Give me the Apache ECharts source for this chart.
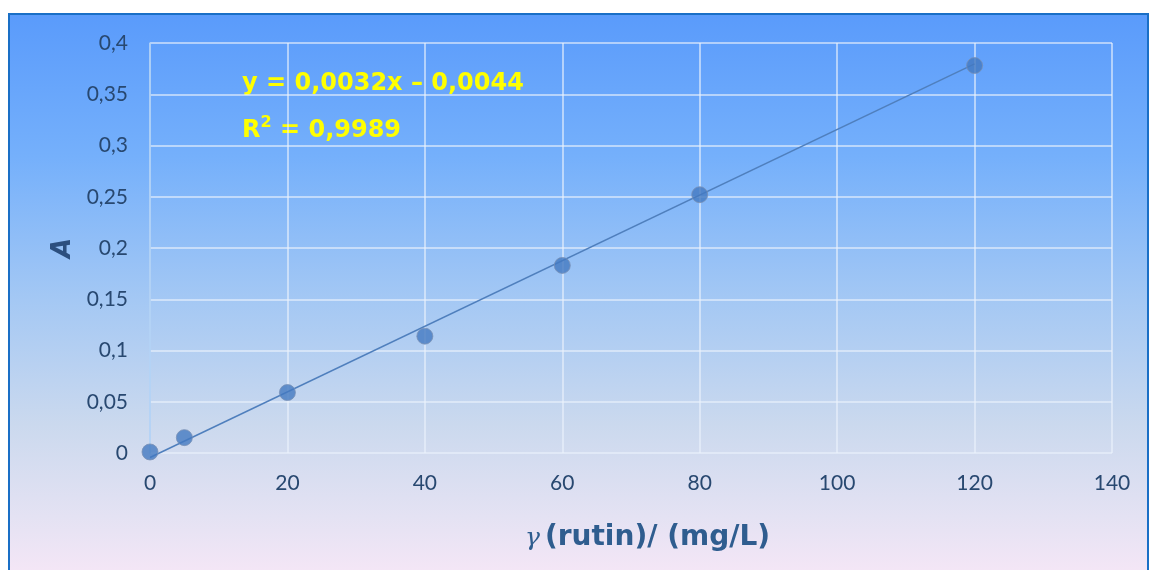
<!DOCTYPE html>
<html><head><meta charset="utf-8">
<script src="https://cdn.jsdelivr.net/npm/echarts@6/dist/echarts.min.js"></script>
<style>
html,body{margin:0;padding:0;background:#fff;width:1149px;height:570px;overflow:hidden}
#frame{position:absolute;left:8px;top:13px;width:1137px;height:570px;border:2px solid #1a6fc6;border-bottom:none;
background:linear-gradient(to bottom,#5a9bfb 0%,#75b0fb 25%,#a4c8f4 50%,#cbd9ee 72%,#e4e2f3 88%,#f8e7f7 100%);}
#chart{position:absolute;left:0;top:0;width:1149px;height:570px}
</style></head><body>
<div id="frame"></div>
<div id="chart"></div>
<script>
const concentrations = [0, 5, 20, 40, 60, 80, 120];
const absorbance = [0.001, 0.015, 0.059, 0.114, 0.183, 0.252, 0.378];
const trendX = [0, 120];
const trendY = [-0.0044, 0.3796];
const equationText = 'y = 0,0032x – 0,0044';
const r2Value = '0,9989';
const xTitle = '(rutin)/ (mg/L)';
const yTitle = 'A';

const chart = echarts.init(document.getElementById('chart'), null, {renderer:'canvas'});
const labelColor = '#284870';
const gridColor = 'rgba(235,242,252,0.8)';
chart.setOption({
  backgroundColor: 'transparent',
  animation: false,
  grid: {left:150, right:37, top:43, bottom:117},
  xAxis: {
    type:'value', min:0, max:140, interval:20,
    axisLine:{show:false}, axisTick:{show:false},
    splitLine:{show:true, lineStyle:{color:gridColor, width:1.5}},
    axisLabel:{color:labelColor, fontSize:21, fontFamily:'Lato', margin:20}
  },
  yAxis: {
    type:'value', min:0, max:0.4, interval:0.05,
    axisLine:{show:true, lineStyle:{color:'#a9cdf3', width:1.5}}, axisTick:{show:false},
    splitLine:{show:true, lineStyle:{color:gridColor, width:1.5}},
    axisLabel:{color:labelColor, fontSize:21, fontFamily:'Lato', margin:22,
      formatter: v => String(+v.toFixed(2)).replace('.', ',')},
    name: yTitle, nameLocation:'middle', nameGap:74, nameRotate:90,
    nameTextStyle:{fontFamily:'DejaVu Sans', fontWeight:'bold', fontStyle:'italic', fontSize:26, color:'#2c4f7e'}
  },
  series: [
    {
      type:'line', data: trendX.map((x,i)=>[x, trendY[i]]), symbol:'none', clip:false,
      lineStyle:{color:'#4f7fbd', width:1.5}, z:2
    },
    {
      type:'scatter', data: concentrations.map((x,i)=>[x, absorbance[i]]),
      symbol:'circle', symbolSize:16, clip:false,
      itemStyle:{color:'#4479c0', borderColor:'#7890b5', borderWidth:1}, z:3
    }
  ],
  graphic: [
    {type:'text', left:242, top:72, style:{text:equationText, fill:'#ffff00', font:'bold 24px "DejaVu Sans"'}},
    {type:'text', left:242, top:115, style:{
      text:'{r|R}{s|2}{r| = ' + r2Value + '}',
      rich:{ r:{fill:'#ffff00', font:'bold 24px "DejaVu Sans"', verticalAlign:'bottom'},
             s:{fill:'#ffff00', font:'bold 16px "DejaVu Sans"', verticalAlign:'top', padding:[0,0,12,0]} }
    }},
    {type:'text', left:525, top:524, style:{
      text:'{g|γ}{b|' + xTitle + '}',
      rich:{
        g:{fill:'#2f5d8f', font:'italic 25px "DejaVu Serif"', padding:[0,5,0,0]},
        b:{fill:'#2f5d8f', font:'bold 28px "DejaVu Sans"'}
      }
    }}
  ]
});
</script>
</body></html>
